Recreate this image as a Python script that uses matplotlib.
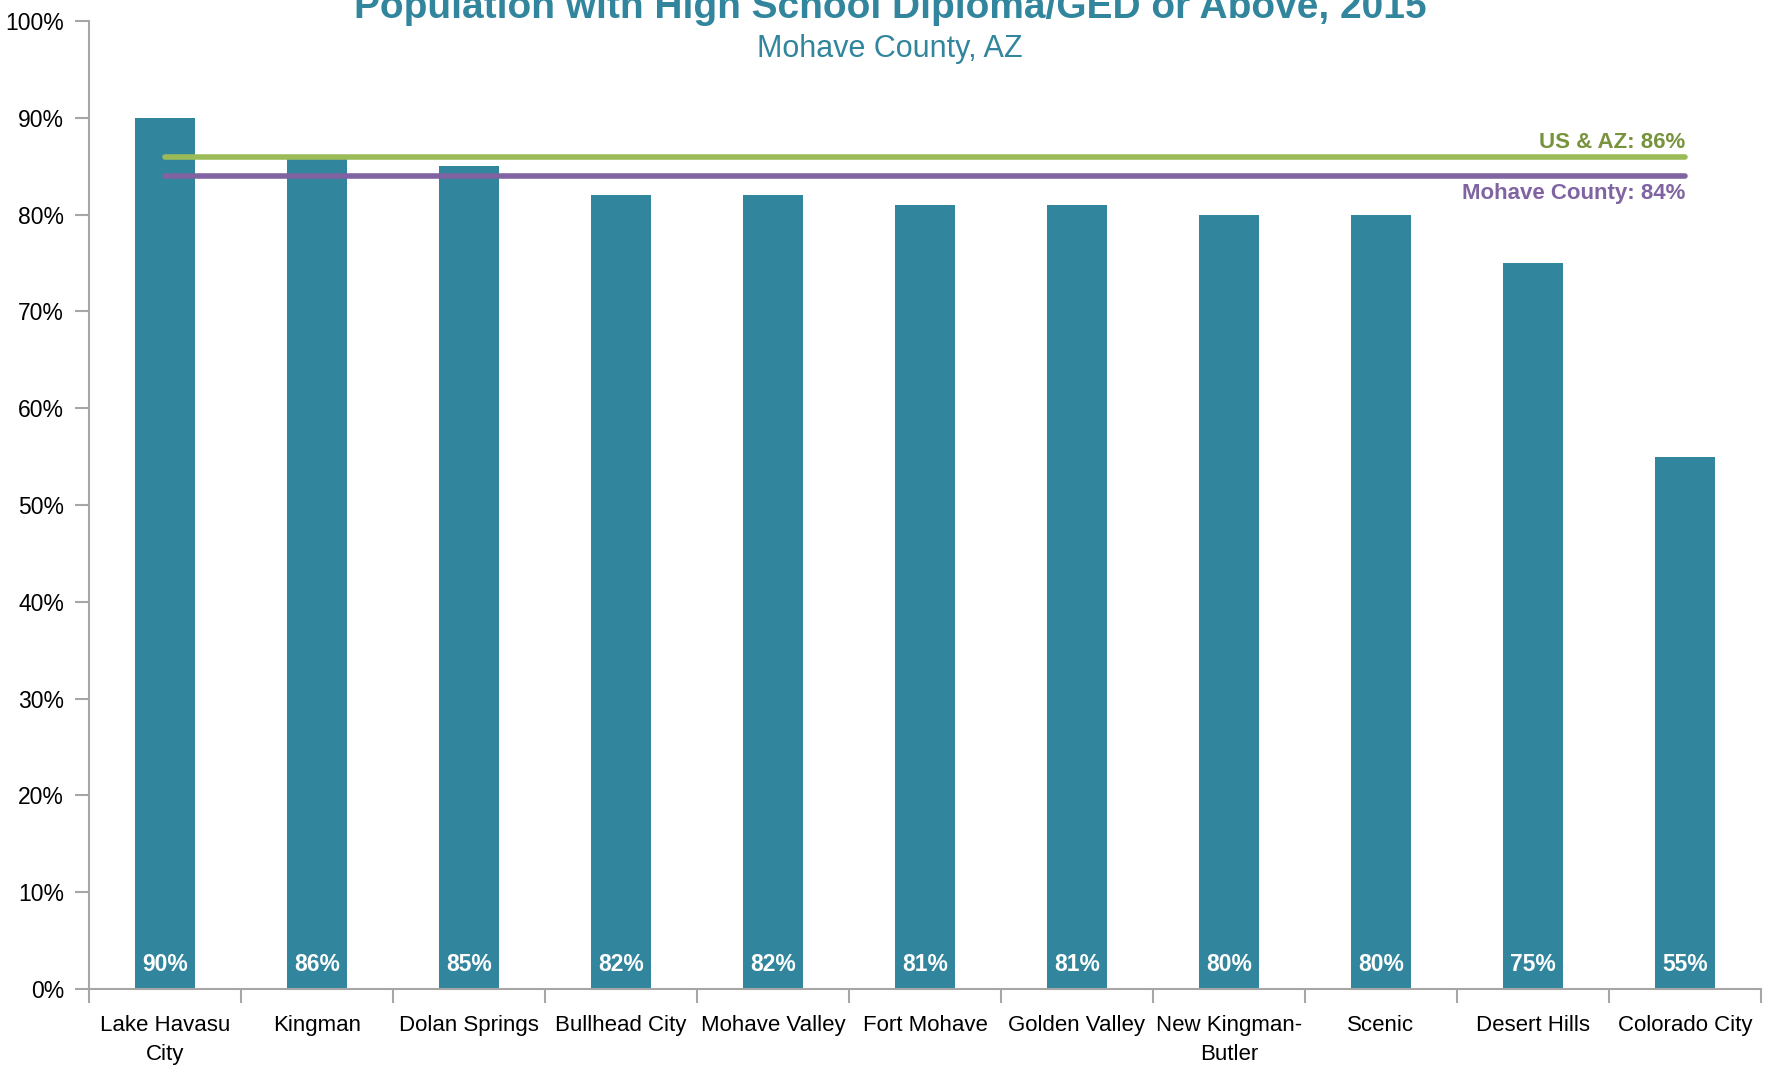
import matplotlib
matplotlib.use("Agg")
import matplotlib.pyplot as plt
import numpy as np

categories = ["Lake Havasu\nCity", "Kingman", "Dolan Springs", "Bullhead City", "Mohave Valley",
              "Fort Mohave", "Golden Valley", "New Kingman-\nButler", "Scenic", "Desert Hills",
              "Colorado City"]
values = [90, 86, 85, 82, 82, 81, 81, 80, 80, 75, 55]
us_az = 86
county = 84
yticks = list(range(0, 101, 10))

plt.rcParams['font.family'] = ["Liberation Sans", "DejaVu Sans"]

teal = "#31859C"
green = "#9BBB59"
purple = "#8064A2"
gray = "#A6A6A6"

fig = plt.figure(figsize=(17.79, 10.82), dpi=100)
ax = fig.add_axes([89/1779, 1-989/1082, (1761-89)/1779, (989-21)/1082])

x = np.arange(len(categories))
ax.bar(x, values, width=0.4, color=teal, zorder=2)
for xi, v in zip(x, values):
    ax.text(xi, 2.5, f"{v}%", color="white", fontweight="bold", fontsize=16.5,
            ha="center", va="center", zorder=3)

ax.plot([x[0], x[-1]], [us_az, us_az], color=green, lw=4, solid_capstyle="round", zorder=3)
ax.plot([x[0], x[-1]], [county, county], color=purple, lw=4, solid_capstyle="round", zorder=3)
ax.text(x[-1], us_az + 0.4, f"US & AZ: {us_az}%", color="#77933C", fontweight="bold",
        fontsize=16, ha="right", va="bottom")
ax.text(x[-1], county - 0.7, f"Mohave County: {county}%", color=purple, fontweight="bold",
        fontsize=16, ha="right", va="top")

ax.set_xlim(-0.5, len(categories) - 0.5)
ax.set_ylim(0, 100)
ax.set_yticks(yticks)
ax.set_yticklabels([f"{t}%" for t in yticks], fontsize=16.5)
ax.set_xticks(x)
ax.set_xticklabels(categories, fontsize=16, linespacing=1.45)
ax.set_xticks(np.arange(-0.5, len(categories)), minor=True)
ax.tick_params(axis="x", which="major", length=0, pad=19)
ax.tick_params(axis="x", which="minor", length=10, color=gray, width=1.5)
ax.tick_params(axis="y", length=10, color=gray, width=1.5, pad=8)
for s in ["top", "right"]:
    ax.spines[s].set_visible(False)
for s in ["left", "bottom"]:
    ax.spines[s].set_color(gray)
    ax.spines[s].set_linewidth(1.5)

fig.text(890/1779, 1-18/1082, "Population with High School Diploma/GED or Above, 2015",
         color=teal, fontweight="bold", fontsize=28, ha="center", va="baseline")
fig.text(890/1779, 1-49/1082, "Mohave County, AZ", color=teal, fontsize=22,
         ha="center", va="center")

fig.savefig("out.png", dpi=100)
